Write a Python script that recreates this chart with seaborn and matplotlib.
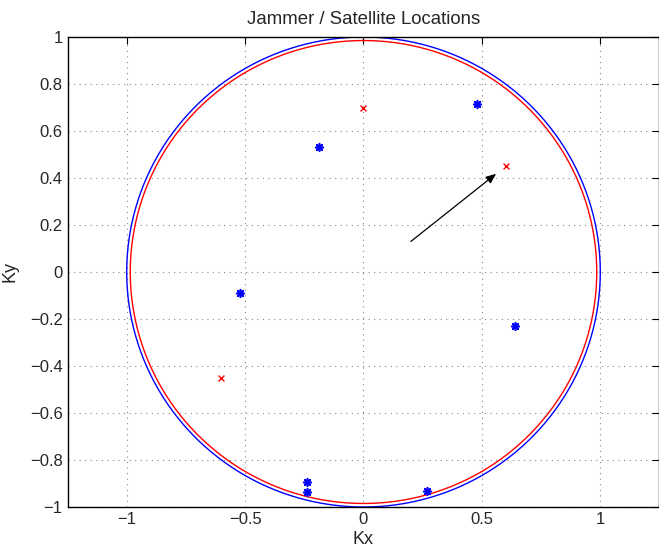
import numpy as np
import pandas as pd
import matplotlib
matplotlib.use("Agg")
import matplotlib.pyplot as plt
import seaborn as sns

# Satellite (blue) and jammer (red) positions in direction-cosine space
sat_kx = [0.48, -0.19, -0.52, 0.64, -0.24, -0.24, 0.27]
sat_ky = [0.715, 0.53, -0.09, -0.23, -0.895, -0.935, -0.93]
jam_kx = [0.0, 0.6, -0.6]
jam_ky = [0.70, 0.45, -0.45]

# Visible-region boundary circles
outer_radius = 1.0
inner_radius = 0.985

# Look-direction arrow: start point and direction
arrow_start = [0.2, 0.13]
arrow_vec = [0.4, 0.32]
arrow_scale = 0.9

sns.set_style("white")
plt.rcParams["font.family"] = ["Liberation Sans", "DejaVu Sans"]

fig = plt.figure(figsize=(6.59, 5.49), dpi=100)
ax = fig.add_axes([67.5 / 659, 42 / 549, 592 / 659, 470 / 549])

theta = np.linspace(0, 2 * np.pi, 361)
circ = pd.DataFrame({
    "kx": np.concatenate([outer_radius * np.cos(theta), inner_radius * np.cos(theta)]),
    "ky": np.concatenate([outer_radius * np.sin(theta), inner_radius * np.sin(theta)]),
    "ring": ["outer"] * len(theta) + ["inner"] * len(theta),
})
sns.lineplot(data=circ, x="kx", y="ky", hue="ring", sort=False, estimator=None,
             palette={"outer": "#0000ff", "inner": "#ff0000"}, linewidth=1.0,
             legend=False, ax=ax)

sats = pd.DataFrame({"kx": sat_kx, "ky": sat_ky})
jams = pd.DataFrame({"kx": jam_kx, "ky": jam_ky})
sns.scatterplot(data=sats, x="kx", y="ky", marker=(8, 2, 0), s=30,
                color="#0000ff", edgecolor="#0000ff", linewidth=1.2, ax=ax, zorder=4)
sns.scatterplot(data=jams, x="kx", y="ky", marker="x", s=18,
                color="#ff0000", linewidth=1.0, ax=ax, zorder=4)

ax.annotate("", xy=(arrow_start[0] + arrow_scale * arrow_vec[0],
                    arrow_start[1] + arrow_scale * arrow_vec[1]),
            xytext=(arrow_start[0], arrow_start[1]),
            arrowprops=dict(arrowstyle="-|>,head_length=0.6,head_width=0.25",
                            color="black", lw=0.9, shrinkA=0, shrinkB=0))

ax.set_xlim(-1.25, 1.25)
ax.set_ylim(-1, 1)
ax.set_xticks([-1, -0.5, 0, 0.5, 1])
ax.set_xticklabels(["\u22121", "\u22120.5", "0", "0.5", "1"])
yt = np.round(np.arange(-1, 1.01, 0.2), 1)
ax.set_yticks(yt)
ax.set_yticklabels([("\u2212" if v < 0 else "") + ("%g" % abs(v)) for v in yt])
ax.tick_params(direction="in", length=5, width=0.8, labelsize=12,
               top=True, right=True, color="black")
ax.grid(True, linestyle=(0, (1, 4)), color="#888888", linewidth=0.8)
for sp in ax.spines.values():
    sp.set_color("black")
    sp.set_linewidth(1.0)

ax.set_xlabel("Kx", fontsize=13, labelpad=3)
ax.set_ylabel("Ky", fontsize=13, labelpad=8)
ax.set_title("Jammer / Satellite Locations", fontsize=13.4, pad=9)

fig.savefig("out.png", dpi=100)
